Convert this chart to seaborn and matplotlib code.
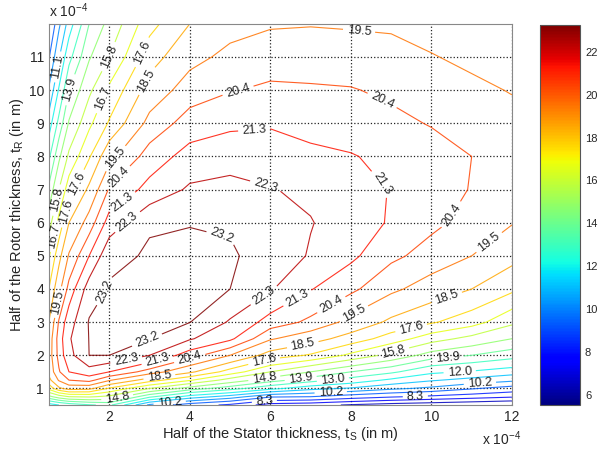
import numpy as np
import matplotlib
matplotlib.use("Agg")
import matplotlib.pyplot as plt
import seaborn as sns

# half stator thickness t_S and half rotor thickness t_R (x 1e-4 m)
ts = [0.5, 0.75, 1, 1.5, 2, 3, 4, 5, 6, 7, 8, 9, 10, 11, 12]
tr = [0.5, 0.75, 1, 1.25, 1.5, 2, 2.5, 3, 4, 5, 6, 7, 8, 9, 10, 11, 12]

# values, one list per t_S column (bottom -> top in t_R)
col_050 = [11.5, 14.5, 17.0, 18.2, 18.8, 19.0, 18.9, 18.5, 17.6, 16.6, 15.4, 14.1, 12.8, 11.5, 10.3, 9.2, 8.2]
col_075 = [12.0, 15.3, 18.3, 19.6, 20.3, 20.7, 20.8, 20.5, 19.2, 18.2, 17.0, 15.8, 14.6, 13.3, 12.1, 11.0, 10.0]
col_1 = [12.4, 15.8, 18.9, 20.4, 21.3, 22.0, 22.2, 21.9, 20.7, 19.6, 18.5, 17.2, 16.0, 14.9, 13.9, 12.7, 11.5]
col_15 = [12.9, 15.9, 18.8, 20.7, 21.9, 23.2, 23.22, 23.26, 22.8, 21.3, 19.9, 18.7, 17.5, 16.5, 15.6, 14.7, 13.9]
col_2 = [13.2, 15.6, 17.5, 19.6, 21.3, 23.2, 23.26, 23.26, 23.26, 23.05, 21.7, 20.5, 19.2, 17.7, 16.9, 15.8, 15.1]
col_3 = [10.0, 13.2, 15.8, 18.0, 20.0, 22.3, 23.22, 23.26, 23.26, 23.26, 23.15, 21.6, 20.8, 19.8, 18.9, 18.1, 17.3]
col_4 = [8.8, 11.6, 14.4, 16.8, 18.7, 20.8, 22.4, 23.22, 23.26, 23.26, 23.19, 22.45, 21.65, 20.8, 19.95, 19.2, 18.5]
col_5 = [8.1, 10.7, 13.4, 15.4, 17.2, 19.5, 21.5, 22.2, 23.2, 23.26, 23.15, 22.6, 21.9, 21.1, 20.35, 19.75, 19.15]
col_6 = [7.0, 9.4, 12.3, 14.3, 15.8, 18.1, 19.6, 20.9, 22.4, 23.0, 22.85, 22.35, 21.8, 21.2, 20.55, 20.0, 19.4]
col_7 = [6.8, 9.3, 11.4, 13.4, 14.8, 17.5, 18.9, 20.2, 21.35, 22.2, 22.35, 22.1, 21.5, 21.0, 20.5, 20.0, 19.45]
col_8 = [6.4, 8.8, 11.0, 12.6, 13.9, 16.5, 18.1, 19.2, 20.6, 21.5, 21.8, 21.75, 21.35, 20.9, 20.45, 19.95, 19.4]
col_9 = [6.1, 8.4, 10.4, 11.8, 13.2, 15.5, 17.2, 18.3, 19.7, 20.6, 21.2, 21.25, 21.1, 20.6, 20.25, 19.85, 19.35]
col_10 = [5.9, 8.1, 10.0, 11.2, 12.2, 14.4, 16.2, 17.7, 19.05, 20.05, 20.6, 20.85, 20.75, 20.35, 20.0, 19.55, 19.15]
col_11 = [5.7, 7.8, 9.4, 10.8, 11.9, 13.9, 15.5, 17.1, 18.5, 19.5, 20.1, 20.35, 20.4, 20.1, 19.7, 19.3, 18.95]
col_12 = [5.53, 7.5, 8.9, 10.4, 11.5, 13.4, 14.8, 16.0, 17.8, 18.8, 19.55, 19.9, 20.0, 19.8, 19.45, 19.15, 18.85]

levels = [5.5, 6.5, 7.4, 8.3, 9.3, 10.2, 11.1, 12.0, 13.0, 13.9, 14.8, 15.8,
          16.7, 17.6, 18.5, 19.5, 20.4, 21.3, 22.3, 23.2]
cmin, cmax = 5.53, 23.26

# where the contour labels sit in the reference
label_pos = [(8.2, 11.75), (5.2, 9.97), (8.8, 9.75), (5.6, 8.8), (8.6, 7.0), (5.9, 7.2),
             (4.8, 5.6), (2.1, 8.0), (2.2, 7.4), (2.4, 6.5), (2.5, 5.95), (2.7, 11.2),
             (2.9, 10.3), (2.0, 11.0), (1.75, 9.8), (1.05, 10.0), (0.72, 10.7),
             (0.63, 6.7), (1.3, 7.1), (1.0, 6.3), (0.6, 5.6), (0.75, 3.6), (1.8, 4.0),
             (2.97, 2.36), (2.43, 1.8), (3.2, 1.8), (4.0, 1.9), (3.25, 1.3), (2.2, 0.7),
             (3.5, 0.58), (5.9, 3.7), (6.7, 3.67), (7.55, 3.45), (8.1, 3.2), (6.8, 2.36),
             (5.85, 1.8), (5.85, 1.3), (5.85, 0.64), (6.75, 1.33), (7.55, 1.3), (7.5, 0.88),
             (9.05, 2.15), (9.5, 2.8), (10.4, 3.67), (11.5, 5.3), (10.55, 6.2),
             (10.4, 1.94), (10.7, 1.55), (11.2, 1.24), (9.6, 0.79)]

Z = np.array([col_050, col_075, col_1, col_15, col_2, col_3, col_4, col_5,
              col_6, col_7, col_8, col_9, col_10, col_11, col_12]).T
X, Y = np.meshgrid(ts, tr)

sns.set_style("white")
plt.rcParams['font.family'] = ['Liberation Sans', 'DejaVu Sans']

fig = plt.figure(figsize=(6.03, 4.5), dpi=100)
ax = fig.add_axes([0.081, 0.10, 0.768, 0.847])
cax = fig.add_axes([0.895, 0.10, 0.067, 0.845])

norm = matplotlib.colors.Normalize(vmin=cmin, vmax=cmax)
cs = ax.contour(X, Y, Z, levels=levels, cmap='jet', norm=norm, linewidths=0.8, alpha=0.85)
ax.clabel(cs, fmt='%.1f', fontsize=9, colors='k', inline=True, inline_spacing=4,
          manual=label_pos)

ax.set_xlim(0.5, 12)
ax.set_ylim(0.5, 12)
ax.set_xticks([2, 4, 6, 8, 10, 12])
ax.set_yticks(range(1, 12))
ax.grid(True, linestyle=':', color='#222222', linewidth=0.9)
ax.tick_params(direction='in', labelsize=10, length=4)
for s in ax.spines.values():
    s.set_color('#888888')

ax.set_xlabel('Half of the Stator thickness, t$_\\mathregular{S}$ (in m)', fontsize=10.5, labelpad=1)
ax.set_ylabel('Half of the Rotor thickness, t$_\\mathregular{R}$ (in m)', fontsize=10.5, labelpad=2)
ax.text(0.0, 1.01, 'x 10$^{\\mathregular{-4}}$', transform=ax.transAxes, fontsize=10, va='bottom', ha='left')
ax.text(1.02, -0.065, 'x 10$^{\\mathregular{-4}}$', transform=ax.transAxes, fontsize=10, va='top', ha='right')

sm = matplotlib.cm.ScalarMappable(norm=norm, cmap='jet')
cb = fig.colorbar(sm, cax=cax)
cb.set_ticks([6, 8, 10, 12, 14, 16, 18, 20, 22])
cb.ax.tick_params(labelsize=8, direction='in', length=3)
cb.outline.set_edgecolor('#555555')

fig.savefig('out.png', dpi=100)
